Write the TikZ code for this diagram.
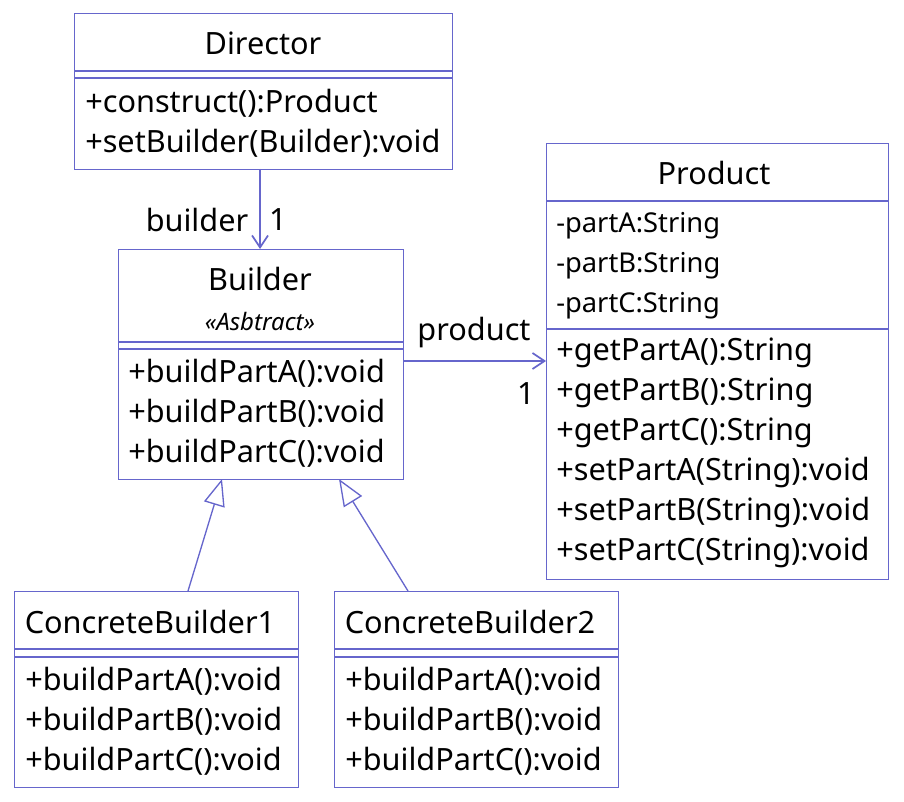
\documentclass[tikz,border=0pt]{standalone}
\usepackage{fontspec}
\setmainfont{Noto Sans}
\usetikzlibrary{arrows.meta}
\definecolor{umlblue}{RGB}{102,102,204}
\tikzset{
  cls/.style={draw=umlblue, line width=0.9pt, fill=white, anchor=north west, inner sep=0pt},
  sep/.style={draw=umlblue, line width=0.9pt},
  big/.style={font=\fontsize{23}{27}\selectfont, inner sep=0pt, text=black, yshift=-1.5pt},
  mem/.style={big, anchor=west},
  attr/.style={font=\fontsize{20.5}{24}\selectfont, inner sep=0pt, anchor=west, yshift=-1.5pt},
  stereo/.style={font=\fontsize{18}{21}\selectfont\itshape, inner sep=0pt, yshift=-1pt},
  assoc/.style={draw=umlblue, line width=1.3pt, -{Straight Barb[length=9pt,width=12pt,line width=1.3pt]}},
  gen/.style={draw=umlblue, line width=1pt, -{Triangle[open,length=20pt,width=16pt,fill=white,line width=1pt]}}
}
\begin{document}
\begin{tikzpicture}[x=0.75pt,y=-0.75pt]
\useasboundingbox (0,0) rectangle (904,802);
% Director
\node[cls, minimum width=378*0.75pt, minimum height=156*0.75pt] (dir) at (74,13) {};
\draw[sep] (74,71) -- (452,71);
\draw[sep] (74,78) -- (452,78);
\node[big] (dirn) at (263,41) {Director};
\node[mem] (dirm1) at (85,101) {+construct():Product};
\node[mem] (dirm2) at (85,141) {+setBuilder(Builder):void};
% Builder
\node[cls, minimum width=285*0.75pt, minimum height=230*0.75pt] (bld) at (118,249) {};
\draw[sep] (118,342) -- (403,342);
\draw[sep] (118,349) -- (403,349);
\node[big] (bldn) at (260,277) {Builder};
\node[stereo] (blds) at (260,320) {«Asbtract»};
\node[mem] (bldm1) at (128,371) {+buildPartA():void};
\node[mem] (bldm2) at (128,411) {+buildPartB():void};
\node[mem] (bldm3) at (128,451) {+buildPartC():void};
% Product
\node[cls, minimum width=342*0.75pt, minimum height=436*0.75pt] (prd) at (546,143) {};
\draw[sep] (546,201) -- (888,201);
\draw[sep] (546,329) -- (888,329);
\node[big] (prdn) at (714,171) {Product};
\node[attr] (prda1) at (556,224) {-partA:String};
\node[attr] (prda2) at (556,264) {-partB:String};
\node[attr] (prda3) at (556,304) {-partC:String};
\node[mem] (prdm1) at (556,351) {+getPartA():String};
\node[mem] (prdm2) at (556,391) {+getPartB():String};
\node[mem] (prdm3) at (556,431) {+getPartC():String};
\node[mem] (prdm4) at (556,471) {+setPartA(String):void};
\node[mem] (prdm5) at (556,511) {+setPartB(String):void};
\node[mem] (prdm6) at (556,551) {+setPartC(String):void};
% ConcreteBuilder1
\node[cls, minimum width=284*0.75pt, minimum height=196*0.75pt] (cb1) at (14,591) {};
\draw[sep] (14,649) -- (298,649);
\draw[sep] (14,657) -- (298,657);
\node[big] (cb1n) at (150,620) {ConcreteBuilder1};
\node[mem] (cb1m1) at (25,679) {+buildPartA():void};
\node[mem] (cb1m2) at (25,719) {+buildPartB():void};
\node[mem] (cb1m3) at (25,759) {+buildPartC():void};
% ConcreteBuilder2
\node[cls, minimum width=284*0.75pt, minimum height=196*0.75pt] (cb2) at (334,591) {};
\draw[sep] (334,649) -- (618,649);
\draw[sep] (334,657) -- (618,657);
\node[big] (cb2n) at (470,620) {ConcreteBuilder2};
\node[mem] (cb2m1) at (345,679) {+buildPartA():void};
\node[mem] (cb2m2) at (345,719) {+buildPartB():void};
\node[mem] (cb2m3) at (345,759) {+buildPartC():void};
% connectors
\coordinate (dirS) at (260,169);
\coordinate (bldN) at (260,249);
\draw[assoc] (dirS) -- (bldN);
\node[big] (lblb) at (197,218) {builder};
\node[big] (lbl1) at (278,218) {1};
\coordinate (bldE) at (403,361);
\coordinate (prdW) at (546,361);
\draw[assoc] (bldE) -- (prdW);
\node[big] (lblp) at (474,331) {product};
\node[big] (lbl2) at (526,392) {1};
\coordinate (cb1T) at (188,591);
\coordinate (bldB1) at (222,479);
\draw[gen] (cb1T) -- (bldB1);
\coordinate (cb2T) at (408,591);
\coordinate (bldB2) at (339,479);
\draw[gen] (cb2T) -- (bldB2);
\end{tikzpicture}
\end{document}
